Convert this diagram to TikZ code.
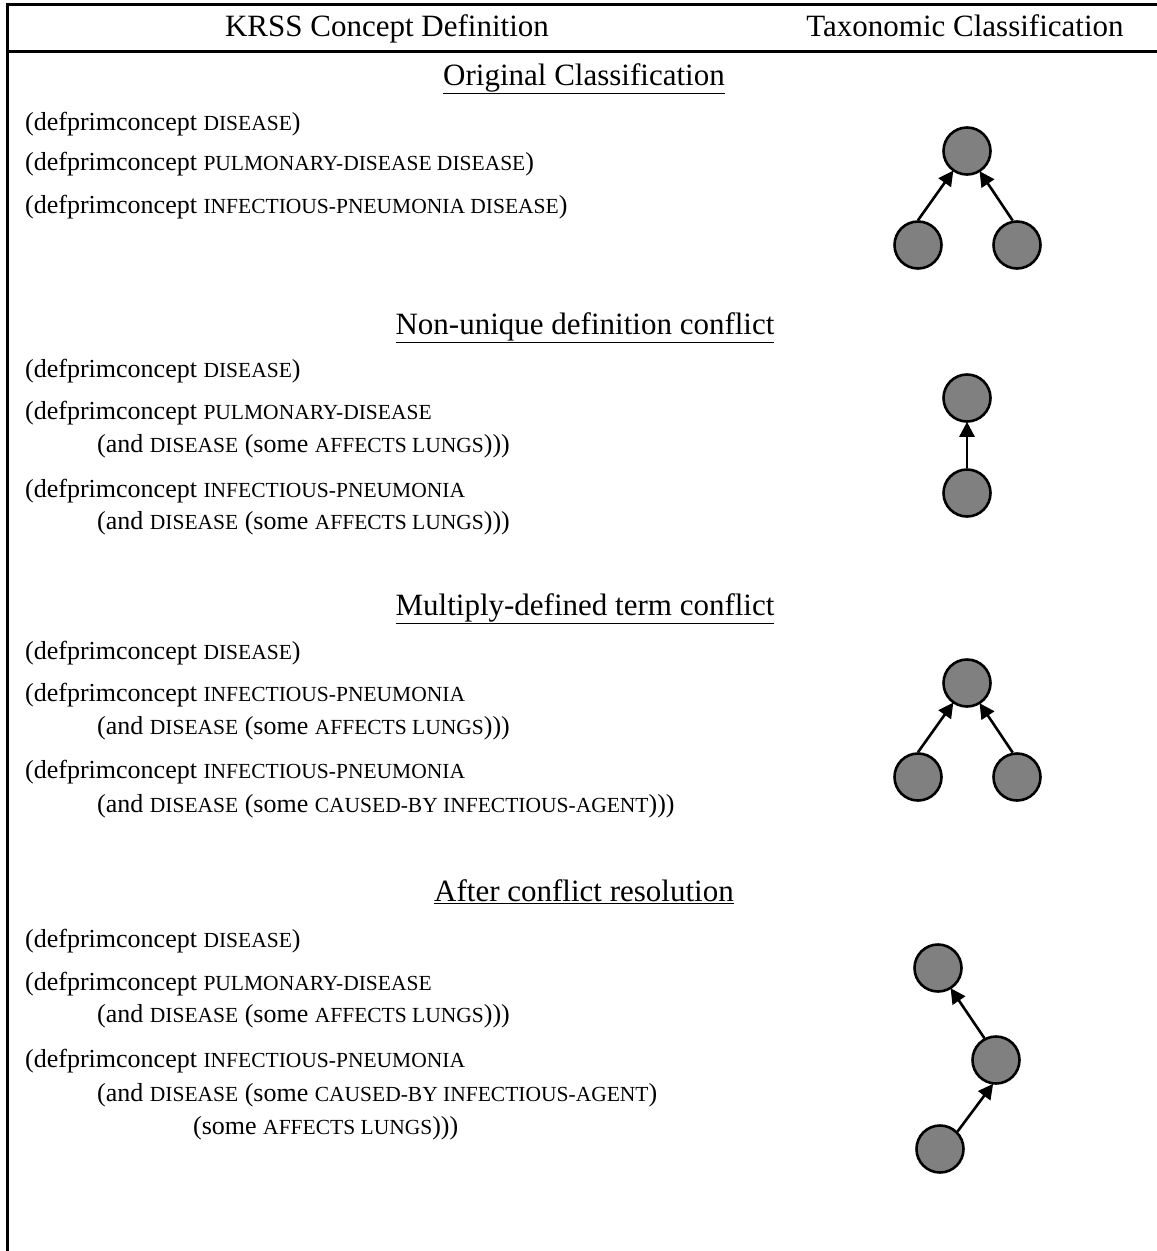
\documentclass[tikz,border=0pt]{standalone}
\usepackage{fontspec}
\setmainfont{Liberation Serif}
\usetikzlibrary{arrows.meta}
\definecolor{nodegray}{HTML}{808080}
\newcommand{\kc}[1]{{\fontsize{21.5}{24}\selectfont #1}}
\tikzset{
  frame/.style={line width=3pt},
  headtext/.style={font=\fontsize{31}{36}\selectfont, anchor=base, inner sep=0pt},
  sectitle/.style={font=\fontsize{31}{36}\selectfont, anchor=base, inner sep=0pt},
  krss/.style={font=\fontsize{26}{30}\selectfont, anchor=base west, inner sep=0pt},
  concept/.style={circle, draw, line width=2.6pt, fill=nodegray, minimum size=47pt, inner sep=0pt},
  isa/.style={line width=2.6pt, -{Triangle[length=15pt,width=15pt]}, shorten >=-1pt}
}
\begin{document}
\begin{tikzpicture}[x=1pt,y=-1pt]
\useasboundingbox (0,0) rectangle (1157,1251);
% table frame
\draw[frame] (7.5,4) -- (1157,4);
\draw[frame] (7.5,51.5) -- (1157,51.5);
\draw[frame] (7.5,2.5) -- (7.5,1251);

% column heads
\node[headtext] (hkrss) at (387,36) {KRSS Concept Definition};
\node[headtext] (htax) at (965,36) {Taxonomic Classification};

% ---- Original classification ----
\node[sectitle] (t1) at (584,85) {\underline{Original Classification}};
\node[krss] (a1) at (25,130) {(defprimconcept \kc{DISEASE})};
\node[krss] (a2) at (25,170) {(defprimconcept \kc{PULMONARY-DISEASE DISEASE})};
\node[krss] (a3) at (25,213) {(defprimconcept \kc{INFECTIOUS-PNEUMONIA DISEASE})};
\node[concept] (c1t) at (967,151) {};
\node[concept] (c1l) at (918,245) {};
\node[concept] (c1r) at (1017,245) {};
\draw[isa] (c1l.north) -- (c1t.235);
\draw[isa] (c1r.100) -- (c1t.302);

% ---- Non-unique definition conflict ----
\node[sectitle] (t2) at (585,334) {\underline{Non-unique definition conflict}};
\node[krss] (b1) at (25,377) {(defprimconcept \kc{DISEASE})};
\node[krss] (b2) at (25,419) {(defprimconcept \kc{PULMONARY-DISEASE}};
\node[krss] (b3) at (97,452) {(and \kc{DISEASE} (some \kc{AFFECTS LUNGS})))};
\node[krss] (b4) at (25,497) {(defprimconcept \kc{INFECTIOUS-PNEUMONIA}};
\node[krss] (b5) at (97,529) {(and \kc{DISEASE} (some \kc{AFFECTS LUNGS})))};
\node[concept] (c2t) at (967,398) {};
\node[concept] (c2b) at (967,493) {};
\draw[isa] (c2b.north) -- (c2t.south);

% ---- Multiply-defined term conflict ----
\node[sectitle] (t3) at (585,615) {\underline{Multiply-defined term conflict}};
\node[krss] (m1) at (25,659) {(defprimconcept \kc{DISEASE})};
\node[krss] (m2) at (25,701) {(defprimconcept \kc{INFECTIOUS-PNEUMONIA}};
\node[krss] (m3) at (97,734) {(and \kc{DISEASE} (some \kc{AFFECTS LUNGS})))};
\node[krss] (m4) at (25,778) {(defprimconcept \kc{INFECTIOUS-PNEUMONIA}};
\node[krss] (m5) at (97,812) {(and \kc{DISEASE} (some \kc{CAUSED-BY INFECTIOUS-AGENT})))};
\node[concept] (c3t) at (967,683) {};
\node[concept] (c3l) at (918,777) {};
\node[concept] (c3r) at (1017,777) {};
\draw[isa] (c3l.north) -- (c3t.235);
\draw[isa] (c3r.100) -- (c3t.302);

% ---- After conflict resolution ----
\node[sectitle] (t4) at (584,901) {\underline{After conflict resolution}};
\node[krss] (r1) at (25,947) {(defprimconcept \kc{DISEASE})};
\node[krss] (r2) at (25,990) {(defprimconcept \kc{PULMONARY-DISEASE}};
\node[krss] (r3) at (97,1022) {(and \kc{DISEASE} (some \kc{AFFECTS LUNGS})))};
\node[krss] (r4) at (25,1067) {(defprimconcept \kc{INFECTIOUS-PNEUMONIA}};
\node[krss] (r5) at (97,1101) {(and \kc{DISEASE} (some \kc{CAUSED-BY INFECTIOUS-AGENT})};
\node[krss] (r6) at (193,1134) {(some \kc{AFFECTS LUNGS})))};
\node[concept] (c4t) at (938,968) {};
\node[concept] (c4m) at (996,1060) {};
\node[concept] (c4b) at (940,1149) {};
\draw[isa] (c4m.118) -- (c4t.302);
\draw[isa] (c4b.45) -- (c4m.262);
\end{tikzpicture}
\end{document}
